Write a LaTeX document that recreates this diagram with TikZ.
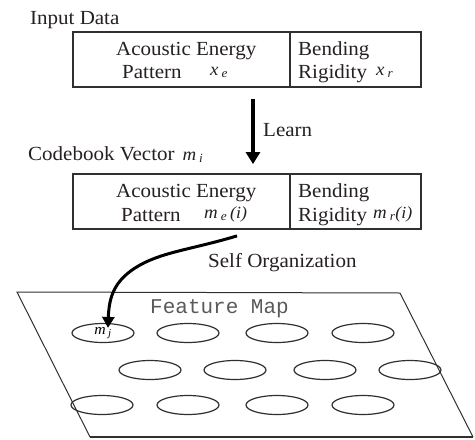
\documentclass[tikz,border=0pt]{standalone}
\usepackage{fontspec}
\setmainfont[FakeStretch=1.05]{Liberation Serif}
\newfontfamily\fmono{Liberation Mono}
\usetikzlibrary{arrows.meta,shapes.geometric}
\definecolor{ink}{HTML}{262020}
\definecolor{frame}{HTML}{303030}
\newcommand{\myvar}[2]{{\fontsize{18}{18}\selectfont\itshape #1\,\textsubscript{#2}}}
\newcommand{\myarg}{{\fontsize{17}{17}\selectfont\itshape (i)}}
\tikzset{
  lbl/.style={anchor=base west,inner sep=0pt,text=ink,font=\fontsize{20}{22}\selectfont},
  cellbox/.style={draw=frame,line width=1.8pt,rectangle,minimum width=348pt,minimum height=55pt,inner sep=0pt},
  cell/.style={ellipse,draw=frame,line width=1.2pt,minimum width=62pt,minimum height=19pt,inner sep=0pt},
  learnarrow/.style={line width=4pt,-{Triangle[length=12pt,width=14pt]}},
  orgarrow/.style={line width=3pt,-{Triangle[length=11pt,width=12pt]}},
}
\begin{document}
\begin{tikzpicture}[x=1pt,y=-1pt]
\useasboundingbox (0,0) rectangle (475,440);
% Input data
\node[lbl] (inlabel) at (30,24) {Input Data};
\node[cellbox] (box1) at (247,59.5) {};
\draw[frame,line width=1.5pt] (290,32) -- (290,87);
\node[lbl] (b1a) at (116,55) {Acoustic Energy};
\node[lbl] (b1b) at (122,78) {Pattern};
\node[lbl] (b1x) at (210,75) {\myvar{x}{e}};
\node[lbl] (b1c) at (298,55) {Bending};
\node[lbl] (b1d) at (298,78) {Rigidity};
\node[lbl] (b1r) at (376,75) {\myvar{x}{r}};
% learn arrow
\node[cellbox] (box2) at (247,201.5) {};
\draw[learnarrow] ([xshift=6pt,yshift=-11pt]box1.south) -- ([xshift=6pt,yshift=9pt]box2.north);
\node[lbl] (learn) at (263,136) {Learn};
% Codebook vector
\node[lbl] (cblabel) at (28,160) {Codebook Vector\hspace{8pt}\myvar{m}{i}};
\draw[frame,line width=1.5pt] (290,174) -- (290,229);
\node[lbl] (b2a) at (116,197) {Acoustic Energy};
\node[lbl] (b2b) at (121,221) {Pattern};
\node[lbl] (b2x) at (204,218) {\myvar{m}{e}\hspace{3pt}\myarg};
\node[lbl] (b2c) at (298,197) {Bending};
\node[lbl] (b2d) at (298,221) {Rigidity};
\node[lbl] (b2r) at (373,218) {\myvar{m}{r}\myarg};
% feature map plane
\coordinate (p1) at (17,292);
\coordinate (p2) at (400,293);
\coordinate (p3) at (473,437);
\coordinate (p4) at (90,437);
\draw[frame,line width=1pt] (p4) -- (p1) -- (p2) -- (p3);
\draw[frame,line width=2.2pt] (p3) -- (p4);
\node[anchor=base west,inner sep=0pt,text=frame!80,font=\fmono\fontsize{21}{21}\selectfont] (fm) at (150,313) {Feature Map};
% cells
\node[cell] (c11) at (103,333) {{\fontsize{15}{15}\selectfont\itshape m\,\textsubscript{j}}};
\node[cell] (c12) at (188,333) {};
\node[cell] (c13) at (277,333) {};
\node[cell] (c14) at (363,333) {};
\node[cell] (c21) at (150,370) {};
\node[cell] (c22) at (235,370) {};
\node[cell] (c23) at (325,370) {};
\node[cell] (c24) at (410,370) {};
\node[cell] (c31) at (102,405) {};
\node[cell] (c32) at (188,405) {};
\node[cell] (c33) at (277,405) {};
\node[cell] (c34) at (363,405) {};
% self organization arrow
\coordinate (orgstart) at ([xshift=-10pt,yshift=-6pt]box2.south);
\draw[orgarrow] (orgstart) .. controls (190,250) and (160,252) .. (135,268)
  .. controls (115,281) and (109,296) .. ([xshift=5pt,yshift=-5pt]c11.north);
\node[lbl] (self) at (208,267) {Self Organization};
\end{tikzpicture}
\end{document}
